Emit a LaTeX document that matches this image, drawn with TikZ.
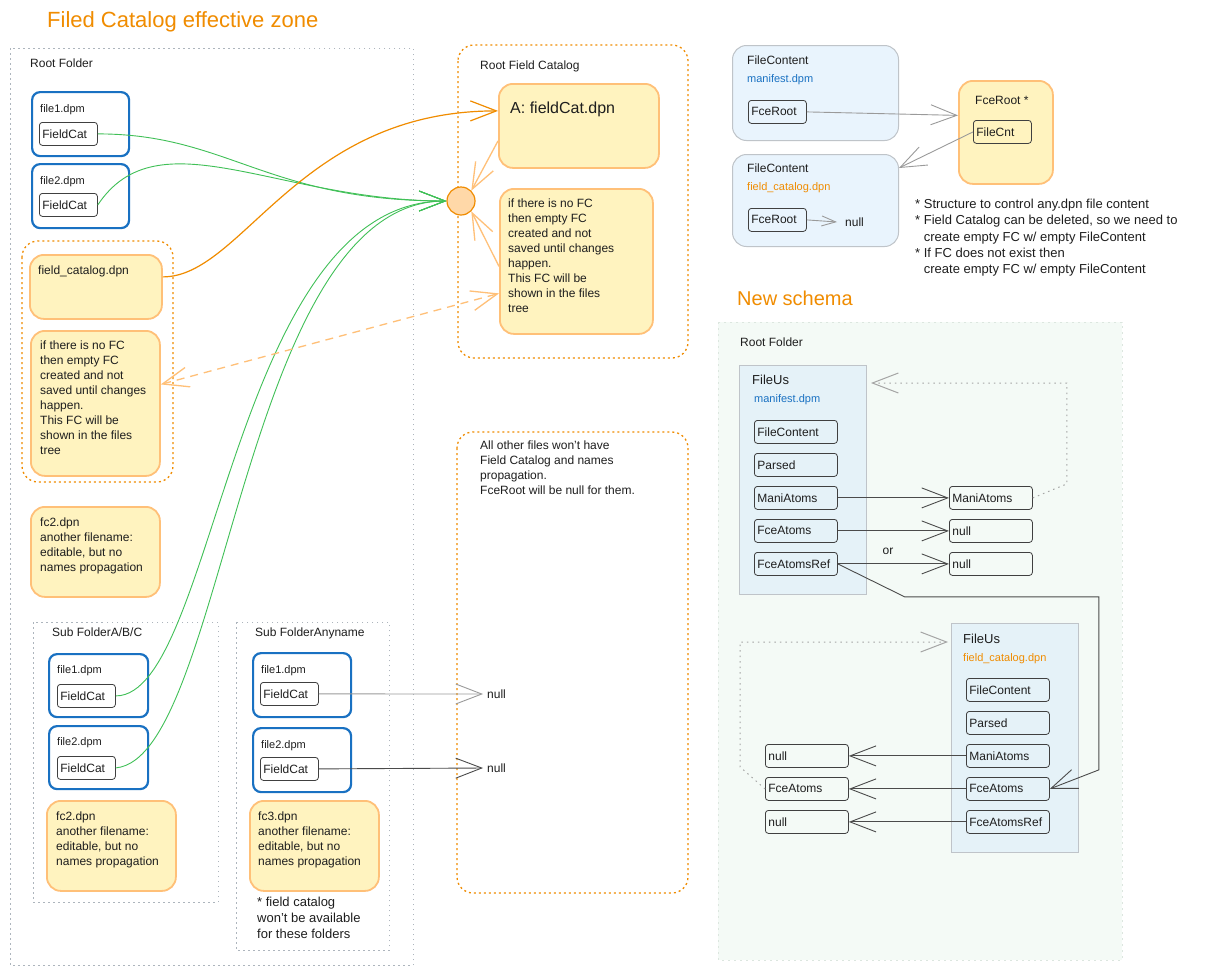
\documentclass[tikz,border=0pt]{standalone}
\usepackage{fontspec}
\setmainfont{Liberation Sans}
\usetikzlibrary{positioning, arrows.meta, calc}

\definecolor{ink}{HTML}{1E1E1E}
\definecolor{zone}{HTML}{F08C00}
\definecolor{notefill}{HTML}{FFF3BF}
\definecolor{notedraw}{HTML}{FFC078}
\definecolor{fileblue}{HTML}{1971C2}
\definecolor{linkgreen}{HTML}{40C057}
\definecolor{paleblue}{HTML}{E9F4FD}
\definecolor{usblue}{HTML}{E5F2F8}
\definecolor{grayline}{HTML}{BFC4C9}
\definecolor{frame}{HTML}{ADB5BD}
\definecolor{schemabg}{HTML}{F4FAF6}
\definecolor{schemaline}{HTML}{DCE6DF}
\definecolor{hubfill}{HTML}{FFD8A8}

\tikzset{
  txt/.style={font=\fontsize{12}{15}\selectfont, text=ink, align=left, inner sep=0pt, anchor=north west},
  title/.style={font=\fontsize{20}{24}\selectfont, text=zone, inner sep=0pt, anchor=west},
  folder/.style={draw=frame, dash pattern=on 1.5pt off 3.5pt, line width=0.9pt},
  zonebox/.style={draw=zone, dash pattern=on 2pt off 3pt, line width=1.3pt, rounded corners=16pt},
  filebox/.style={draw=fileblue, line width=2.2pt, rounded corners=8pt, anchor=north west, inner sep=0pt},
  notebox/.style={draw=notedraw, fill=notefill, line width=1.8pt, rounded corners=14pt, anchor=north west, inner sep=0pt},
  contentbox/.style={draw=grayline, fill=paleblue, line width=1pt, rounded corners=14pt, anchor=north west, inner sep=0pt},
  usbox/.style={draw=grayline, fill=usblue, line width=1pt, anchor=north west, inner sep=0pt},
  cell/.style={draw=ink!85, line width=0.8pt, rounded corners=3pt, anchor=north west,
    font=\fontsize{12}{14}\selectfont, text=ink, inner xsep=3pt, inner ysep=0pt,
    minimum height=23pt, text width=#1, align=left},
  cell/.default=52pt,
  hub/.style={circle, draw=zone, fill=hubfill, line width=1.2pt, minimum size=28pt, inner sep=0pt},
  barb/.style={-{Straight Barb[length=26pt,width=20pt]}},
  smallbarb/.style={-{Straight Barb[length=14pt,width=10pt]}},
  greenlink/.style={barb, draw=linkgreen, line width=0.9pt},
  orangelink/.style={barb, draw=zone, line width=1.2pt},
  softlink/.style={barb, draw=notedraw, line width=1.3pt},
  graylink/.style={barb, draw=ink!45, line width=0.9pt},
  darklink/.style={barb, draw=ink!80, line width=0.9pt},
  dotlink/.style={barb, draw=ink!40, dash pattern=on 1.5pt off 4pt, line width=1pt}
}

\begin{document}
\begin{tikzpicture}[x=1pt, y=-1pt]
  \fill[white] (0,0) rectangle (1227,975);
  \useasboundingbox (0,0) rectangle (1227,975);

  % ---- Filed Catalog effective zone ----
  \node[title, font=\fontsize{22}{26}\selectfont] (ttl) at (47,22) {Filed Catalog effective zone};
  \draw[folder] (10,48) rectangle (413,965); % root folder
  \node[txt] (rootlbl) at (30,59) {Root Folder};

  \node[filebox, minimum width=97pt, minimum height=64pt] (file1) at (31,91) {};
  \node[txt, font=\fontsize{11}{13}\selectfont] (file1lbl) at (40,104) {file1.dpm};
  \node[cell] (fc1) at (39,122) {FieldCat};
  \node[filebox, minimum width=97pt, minimum height=64pt] (file2) at (31,163) {};
  \node[txt, font=\fontsize{11}{13}\selectfont] (file2lbl) at (40,176) {file2.dpm};
  \node[cell] (fc2) at (39,193) {FieldCat};

  \draw[zonebox] (22,241) rectangle (173,482);
  \node[notebox, minimum width=132pt, minimum height=64pt] (fcat) at (29,254) {};
  \node[txt] (fcatlbl) at (38,266) {field\_catalog.dpn};
  \node[notebox, minimum width=129pt, minimum height=145pt] (fnote) at (30,330) {};
  \node[txt] (fnotelbl) at (40,341) {if there is no FC\\then empty FC\\created and not\\saved until changes\\happen.\\This FC will be\\shown in the files\\tree};

  \node[notebox, minimum width=129pt, minimum height=90pt] (fcx) at (30,506) {};
  \node[txt] (fcxlbl) at (40,518) {fc2.dpn\\another filename:\\editable, but no\\names propagation};

  % sub folders
  \draw[folder] (33,622) rectangle (218,902);
  \node[txt] (sublbl) at (52,628) {Sub FolderA/B/C};
  \node[filebox, minimum width=99pt, minimum height=63pt] (sfile1) at (48,653) {};
  \node[txt, font=\fontsize{11}{13}\selectfont] (sfile1lbl) at (57,665) {file1.dpm};
  \node[cell] (sfc1) at (57,684) {FieldCat};
  \node[filebox, minimum width=99pt, minimum height=63pt] (sfile2) at (48,725) {};
  \node[txt, font=\fontsize{11}{13}\selectfont] (sfile2lbl) at (57,737) {file2.dpm};
  \node[cell] (sfc2) at (57,756) {FieldCat};
  \node[notebox, minimum width=129pt, minimum height=90pt] (sfcx) at (46,800) {};
  \node[txt] (sfcxlbl) at (56,812) {fc2.dpn\\another filename:\\editable, but no\\names propagation};

  \draw[folder] (236,622) rectangle (389,950);
  \node[txt] (anylbl) at (255,628) {Sub FolderAnyname};
  \node[filebox, minimum width=98pt, minimum height=64pt] (afile1) at (252,652) {};
  \node[txt, font=\fontsize{11}{13}\selectfont] (afile1lbl) at (261,665) {file1.dpm};
  \node[cell] (afc1) at (260,682) {FieldCat};
  \node[filebox, minimum width=98pt, minimum height=64pt] (afile2) at (252,727) {};
  \node[txt, font=\fontsize{11}{13}\selectfont] (afile2lbl) at (261,740) {file2.dpm};
  \node[cell] (afc2) at (260,757) {FieldCat};
  \node[notebox, minimum width=129pt, minimum height=90pt] (afcx) at (249,800) {};
  \node[txt] (afcxlbl) at (258,812) {fc3.dpn\\another filename:\\editable, but no\\names propagation};
  \node[txt, font=\fontsize{13}{16}\selectfont] (anynote) at (257,897) {* field catalog\\won't be available\\for these folders};

  % root field catalog
  \draw[zonebox] (458,45) rectangle (688,358);
  \node[txt] (rfclbl) at (480,61) {Root Field Catalog};
  \node[notebox, minimum width=160pt, minimum height=84pt] (rootfc) at (498,83) {};
  \node[txt, font=\fontsize{16}{19}\selectfont] (rootfclbl) at (510,102) {A: fieldCat.dpn};
  \node[hub] (hub) at (461,201) {};
  \node[notebox, minimum width=153pt, minimum height=145pt] (rnote) at (499,188) {};
  \node[txt] (rnotelbl) at (508,199) {if there is no FC\\then empty FC\\created and not\\saved until changes\\happen.\\This FC will be\\shown in the files\\tree};

  \draw[zonebox] (457,432) rectangle (688,893);
  \node[txt] (otherlbl) at (480,441) {All other files won't have\\Field Catalog and names\\propagation.\\FceRoot will be null for them.};
  \node[txt, anchor=west] (nullA) at (487,694) {null};
  \node[txt, anchor=west] (nullB) at (487,768) {null};

  % ---- file content structure ----
  \node[contentbox, minimum width=166pt, minimum height=95pt] (fcm) at (732,45) {};
  \node[txt] (fcmlbl) at (747,56) {FileContent};
  \node[txt, font=\fontsize{11}{13}\selectfont, text=fileblue] (fcmname) at (747,74) {manifest.dpm};
  \node[cell] (cr1) at (748,100) {FceRoot};
  \node[contentbox, minimum width=166pt, minimum height=92pt] (fcf) at (732,154) {};
  \node[txt] (fcflbl) at (747,164) {FileContent};
  \node[txt, font=\fontsize{11}{13}\selectfont, text=zone] (fcfname) at (747,182) {field\_catalog.dpn};
  \node[cell] (cr2) at (748,208) {FceRoot};
  \node[txt, anchor=west] (nullC) at (845,222) {null};
  \node[notebox, minimum width=94pt, minimum height=103pt] (froot) at (958,80) {};
  \node[txt] (frootlbl) at (975,96) {FceRoot *};
  \node[cell] (fcnt) at (973,120) {FileCnt};
  \node[txt, font=\fontsize{13}{16.3}\selectfont] (notes) at (915,199) {* Structure to control any.dpn file content\\* Field Catalog can be deleted, so we need to\\\phantom{* }create empty FC w/ empty FileContent\\* If FC does not exist then\\\phantom{* }create empty FC w/ empty FileContent};

  % ---- New schema ----
  \node[title] (newttl) at (737,298) {New schema};
  \draw[fill=schemabg, draw=schemaline, dash pattern=on 2pt off 4pt, line width=0.9pt] (718,322) rectangle (1122,960);
  \node[txt] (nsroot) at (740,338) {Root Folder};

  \node[usbox, minimum width=127pt, minimum height=229pt] (fu1) at (739,365) {};
  \node[txt, font=\fontsize{13}{15}\selectfont] (fu1lbl) at (752,375) {FileUs};
  \node[txt, font=\fontsize{11}{13}\selectfont, text=fileblue] (fu1name) at (754,394) {manifest.dpm};
  \node[cell=77pt] (m1) at (754,420) {FileContent};
  \node[cell=77pt] (m2) at (754,453) {Parsed};
  \node[cell=77pt] (m3) at (754,486) {ManiAtoms};
  \node[cell=77pt] (m4) at (754,519) {FceAtoms};
  \node[cell=77pt] (m5) at (754,552) {FceAtomsRef};
  \node[cell=77pt] (r1) at (949,486) {ManiAtoms};
  \node[cell=77pt] (r2) at (949,519) {null};
  \node[cell=77pt] (r3) at (949,552) {null};
  \node[txt, anchor=center] (orlbl) at (888,551) {or};

  \node[usbox, minimum width=127pt, minimum height=229pt] (fu2) at (951,623) {};
  \node[txt, font=\fontsize{13}{15}\selectfont] (fu2lbl) at (963,634) {FileUs};
  \node[txt, font=\fontsize{11}{13}\selectfont, text=zone] (fu2name) at (963,653) {field\_catalog.dpn};
  \node[cell=77pt] (n1) at (966,678) {FileContent};
  \node[cell=77pt] (n2) at (966,711) {Parsed};
  \node[cell=77pt] (n3) at (966,744) {ManiAtoms};
  \node[cell=77pt] (n4) at (966,777) {FceAtoms};
  \node[cell=77pt] (n5) at (966,810) {FceAtomsRef};
  \node[cell=77pt] (l1) at (765,744) {null};
  \node[cell=77pt] (l2) at (765,777) {FceAtoms};
  \node[cell=77pt] (l3) at (765,810) {null};

  % ---- connectors ----
  \draw[greenlink] (fc1.east) .. controls +(130,0) and +(-180,0) .. (hub.west);
  \draw[greenlink] (fc2.east) .. controls +(60,-90) and +(-170,0) .. (hub.west);
  \draw[greenlink] (sfc1.east) .. controls +(100,0) and +(-215,0) .. (hub.west);
  \draw[greenlink] (sfc2.east) .. controls +(110,-10) and +(-205,0) .. (hub.west);
  \draw[orangelink] ([yshift=10pt]fcat.east) .. controls +(80,0) and +(-200,0) .. ([yshift=15pt]rootfc.west);
  \draw[softlink] ([yshift=-15pt]rootfc.west) -- (hub.north east);
  \draw[softlink] ([yshift=-5pt]rnote.west) -- (hub.south east);
  \draw[softlink, {Straight Barb[length=26pt,width=20pt]}-{Straight Barb[length=26pt,width=20pt]}, dash pattern=on 8pt off 6pt]
    ([yshift=19pt]fnote.east) -- ([yshift=-32pt]rnote.west);
  \draw[graylink] (afc1.east) -- ([xshift=-4pt]nullA.west);
  \draw[darklink] (afc2.east) -- ([xshift=-4pt]nullB.west);

  \draw[graylink] (cr1.east) -- ([yshift=17pt]froot.west);
  \draw[graylink] (fcnt.west) -- ([yshift=-14pt]fcf.north east);
  \draw[graylink, smallbarb] (cr2.east) -- ([xshift=-8pt]nullC.west);

  \draw[darklink] (m3.east) -- (r1.west);
  \draw[darklink] (m4.east) -- (r2.west);
  \draw[darklink] (m5.east) -- (r3.west);
  \draw[dotlink] (r1.east) -- ++(34,-14) |- ([xshift=4pt,yshift=-18pt]fu1.north east);
  \draw[darklink] (m5.east) -- ++(67,33) -- ++(194,0) -- ++(0,173) -- (n4.east);
  \draw[darklink] (n3.west) -- (l1.east);
  \draw[darklink] (n4.west) -- (l2.east);
  \draw[darklink] (n5.west) -- (l3.east);
  \draw[dotlink] (l2.west) -- ++(-25,-22) |- ([xshift=-3pt,yshift=-19pt]fu2.north west);
\end{tikzpicture}
\end{document}
